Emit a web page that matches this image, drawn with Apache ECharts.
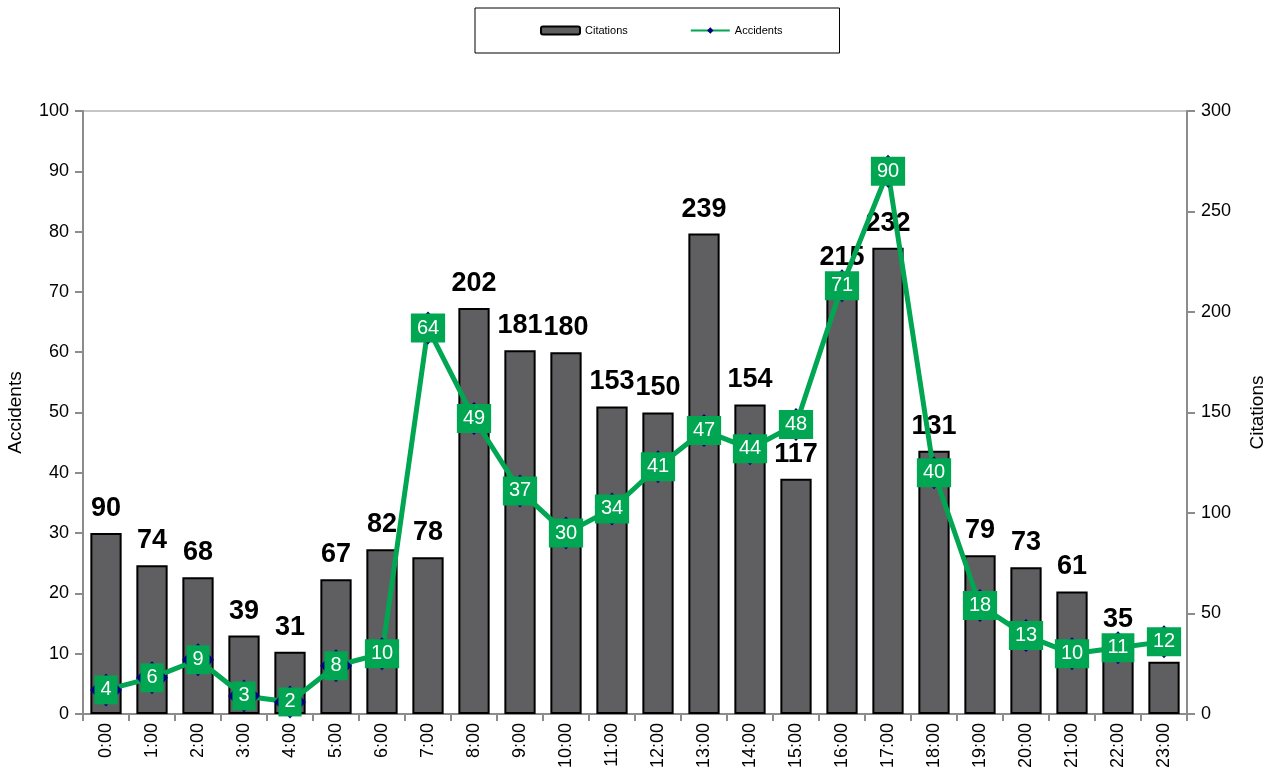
<!DOCTYPE html>
<html>
<head>
<meta charset="utf-8">
<script src="https://cdn.jsdelivr.net/npm/echarts@6/dist/echarts.min.js"></script>
<style>
  html, body { margin: 0; padding: 0; background: #fff; }
  #chart { width: 1269px; height: 776px; }
</style>
</head>
<body>
<div id="chart"></div>
<script>
var hours = ['0:00','1:00','2:00','3:00','4:00','5:00','6:00','7:00','8:00','9:00','10:00','11:00',
  '12:00','13:00','14:00','15:00','16:00','17:00','18:00','19:00','20:00','21:00','22:00','23:00'];
var citations = [90,74,68,39,31,67,82,78,202,181,180,153,150,239,154,117,215,232,131,79,73,61,35,26];
var accidents = [4,6,9,3,2,8,10,64,49,37,30,34,41,47,44,48,71,90,40,18,13,10,11,12];

var font = 'Liberation Sans, Arial, sans-serif';

// last bar has no visible label in the reference
var barData = citations.map(function (v, i) {
  return i === citations.length - 1 ? { value: v, label: { show: false } } : v;
});

var option = {
  animation: false,
  textStyle: { fontFamily: font },
  legend: {
    left: 475, top: 8,
    padding: [17, 57, 17, 65],
    borderColor: '#000', borderWidth: 1,
    itemGap: 62, itemWidth: 39, itemHeight: 8,
    textStyle: { fontSize: 11, color: '#000', fontFamily: font },
    data: ['Citations', { name: 'Accidents', itemStyle: { color: '#000080' } }]
  },
  grid: {
    left: 83, right: 82, top: 111, bottom: 62,
    outerBoundsMode: 'none', containLabel: false,
    show: true, borderColor: '#8c8c8c', borderWidth: 1
  },
  xAxis: {
    type: 'category',
    data: hours,
    axisLine: { lineStyle: { color: '#8c8c8c', width: 2 } },
    axisTick: { show: true, length: 7, lineStyle: { color: '#8c8c8c', width: 2 } },
    axisLabel: { rotate: 90, fontSize: 18, color: '#000', fontFamily: font, margin: 9 }
  },
  yAxis: [
    {
      type: 'value', name: 'Accidents', nameLocation: 'middle', nameGap: 58, nameRotate: 90,
      nameTextStyle: { fontSize: 19, color: '#000', fontFamily: font },
      min: 0, max: 100, interval: 10,
      axisLine: { show: true, lineStyle: { color: '#8c8c8c', width: 2 } },
      axisTick: { show: true, length: 8, lineStyle: { color: '#8c8c8c', width: 2 } },
      axisLabel: { fontSize: 18, color: '#000', fontFamily: font, margin: 14 },
      splitLine: { show: false }
    },
    {
      type: 'value', name: 'Citations', nameLocation: 'middle', nameGap: 61, nameRotate: 90,
      nameTextStyle: { fontSize: 19, color: '#000', fontFamily: font },
      min: 0, max: 300, interval: 50,
      axisLine: { show: true, lineStyle: { color: '#8c8c8c', width: 2 } },
      axisTick: { show: true, length: 8, lineStyle: { color: '#8c8c8c', width: 2 } },
      axisLabel: { fontSize: 18, color: '#000', fontFamily: font, margin: 14 },
      splitLine: { show: false }
    }
  ],
  series: [
    {
      name: 'Citations',
      type: 'bar',
      yAxisIndex: 1,
      data: barData,
      barWidth: '68%',
      itemStyle: { color: '#5f5f61', borderColor: '#000', borderWidth: 2 },
      label: {
        show: true, position: 'top', distance: 11,
        fontSize: 27, fontWeight: 'bold', color: '#000', fontFamily: font
      },
      z: 2
    },
    {
      name: 'Accidents',
      type: 'line',
      yAxisIndex: 0,
      data: accidents,
      symbol: 'diamond',
      symbolSize: [32, 33],
      itemStyle: { color: '#000080' },
      lineStyle: { color: '#00a651', width: 5 },
      label: {
        show: true, position: 'inside',
        fontSize: 20, color: '#fff', fontFamily: font,
        backgroundColor: '#00a651', padding: [5, 6, 4, 6]
      },
      z: 5
    }
  ]
};

echarts.init(document.getElementById('chart')).setOption(option);
</script>
</body>
</html>
